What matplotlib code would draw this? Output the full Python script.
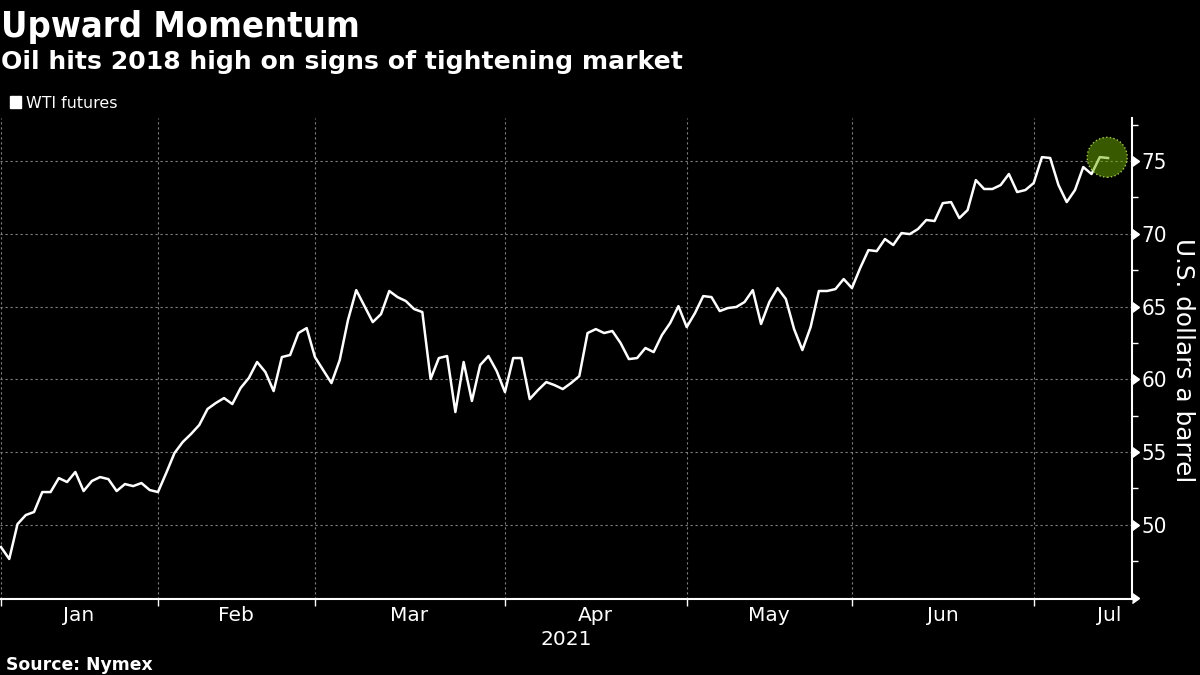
import numpy as np
import matplotlib.pyplot as plt
from matplotlib.patches import Patch

# Ціна WTI за торговими днями (вісь X - номер торгового дня)
PRICES = np.array([
    48.47, 47.65, 50.05, 50.67, 50.88, 52.25, 52.25, 53.21, 52.94, 53.63,
    52.32, 53.01, 53.28, 53.14, 52.32, 52.80, 52.66, 52.87, 52.39, 52.25,
    53.56, 54.93, 55.69, 56.24, 56.86, 57.96, 58.37, 58.71, 58.30, 59.40,
    60.09, 61.19, 60.50, 59.19, 61.53, 61.67, 63.18, 63.52, 61.53, 60.64,
    59.74, 61.32, 64.07, 66.13, 65.03, 63.93, 64.48, 66.07, 65.65, 65.38,
    64.83, 64.62, 60.02, 61.46, 61.60, 57.75, 61.19, 58.51, 60.98, 61.60,
    60.57, 59.12, 61.46, 61.46, 58.64, 59.26, 59.81, 59.60, 59.33, 59.74,
    60.22, 63.18, 63.45, 63.18, 63.32, 62.49, 61.39, 61.46, 62.15, 61.87,
    63.04, 63.87, 65.03, 63.59, 64.55, 65.72, 65.65, 64.69, 64.90, 64.97,
    65.31, 66.13, 63.80, 65.31, 66.27, 65.52, 63.45, 62.01, 63.59, 66.07,
    66.07, 66.20, 66.89, 66.27, 67.65, 68.88, 68.81, 69.64, 69.23, 70.05,
    69.98, 70.33, 70.95, 70.88, 72.11, 72.18, 71.08, 71.63, 73.69, 73.08,
    73.08, 73.35, 74.11, 72.87, 73.01, 73.49, 75.27, 75.21, 73.35, 72.18,
    73.01, 74.59, 74.11, 75.27, 75.21])
MONTH_STARTS = [0, 19, 38, 61, 83, 103, 125]
MONTH_CENTERS = [9.4, 28.4, 49.4, 72, 92.9, 114, 134.1]
MONTHS = ['Jan', 'Feb', 'Mar', 'Apr', 'May', 'Jun', 'Jul']


def style_axes(ax: plt.Axes):
    """Чорний фон, пунктирна сітка, вісь значень праворуч."""
    ax.set_facecolor('black')
    ax.set_xlim(-0.12, 136.9)
    ax.set_ylim(44.9, 77.96)
    for side in ('left', 'top'):
        ax.spines[side].set_visible(False)
    for side in ('right', 'bottom'):
        ax.spines[side].set_color('white')
        ax.spines[side].set_linewidth(1.5)

    ax.set_xticks(MONTH_STARTS, [''] * 7)
    ax.set_xticks(MONTH_CENTERS, MONTHS, minor=True)
    ax.tick_params(axis='x', which='major', length=5, width=1, color='white')
    ax.tick_params(axis='x', which='minor', length=0, labelsize=14.5,
                   labelcolor='white', pad=5)

    ax.yaxis.tick_right()
    ax.set_yticks(np.arange(45, 80, 5), ['', '50', '55', '60', '65', '70', '75'])
    ax.set_yticks(np.arange(47.5, 80, 5), minor=True)
    ax.tick_params(axis='y', which='major', length=0, labelsize=16,
                   labelcolor='white', pad=7)
    ax.tick_params(axis='y', which='minor', length=4, width=1, color='white')
    for label in ax.get_yticklabels():
        label.set_stretch('condensed')
    ax.grid(True, which='major', color='#808080', linewidth=0.8,
            linestyle=(0, (2, 2.5)))
    ax.set_axisbelow(True)

    # Трикутні позначки основних поділок
    ax.plot(np.ones(7), np.arange(45, 80, 5), linestyle='none', marker=9,
            markersize=7, color='white', clip_on=False,
            transform=ax.get_yaxis_transform())

    ax.yaxis.set_label_position('right')
    ax.set_ylabel('U.S. dollars a barrel', rotation=270, color='white',
                  fontsize=17.8, va='bottom')
    ax.yaxis.set_label_coords(1171 / 1132, 0.497)


def plot_wti(prices: np.ndarray):
    """Лінія ціни, кружок останнього значення, заголовки."""
    fig = plt.figure(figsize=(12, 6.75), facecolor='black')
    ax = fig.add_axes([0, 76 / 675, 1132 / 1200, 481 / 675])
    style_axes(ax)

    days = np.arange(len(prices))
    ax.plot(days, prices, color='white', linewidth=1.8, zorder=3)
    ax.scatter(days[-1] - 0.1, prices[-1] + 0.05, s=830, zorder=4,
               facecolor=(0.45, 0.7, 0, 0.5),
               edgecolor=(0.7, 0.85, 0.35, 0.9), linewidth=1, linestyle=':')

    ax.legend(handles=[Patch(color='white', label='WTI futures')],
              loc='lower left', bbox_to_anchor=(0.004, 1.004), frameon=False,
              fontsize=11.4, labelcolor='white', borderaxespad=0,
              borderpad=0.35, handlelength=0.7, handleheight=0.7,
              handletextpad=0.3)

    fig.text(0.001, 1 - 37 / 675, 'Upward Momentum', color='white',
             fontsize=26, fontweight='bold', stretch='condensed')
    fig.text(0.001, 1 - 68.5 / 675, 'Oil hits 2018 high on signs of tightening market',
             color='white', fontsize=18.1, fontweight='bold')
    fig.text(0.005, 1 - 670 / 675, 'Source: Nymex', color='white',
             fontsize=12.4, fontweight='bold')
    fig.text(566 / 1200, 1 - 645 / 675, '2021', color='white', fontsize=14.5,
             ha='center')

    plt.savefig('out.png', dpi=100, facecolor='black')


plot_wti(PRICES)
